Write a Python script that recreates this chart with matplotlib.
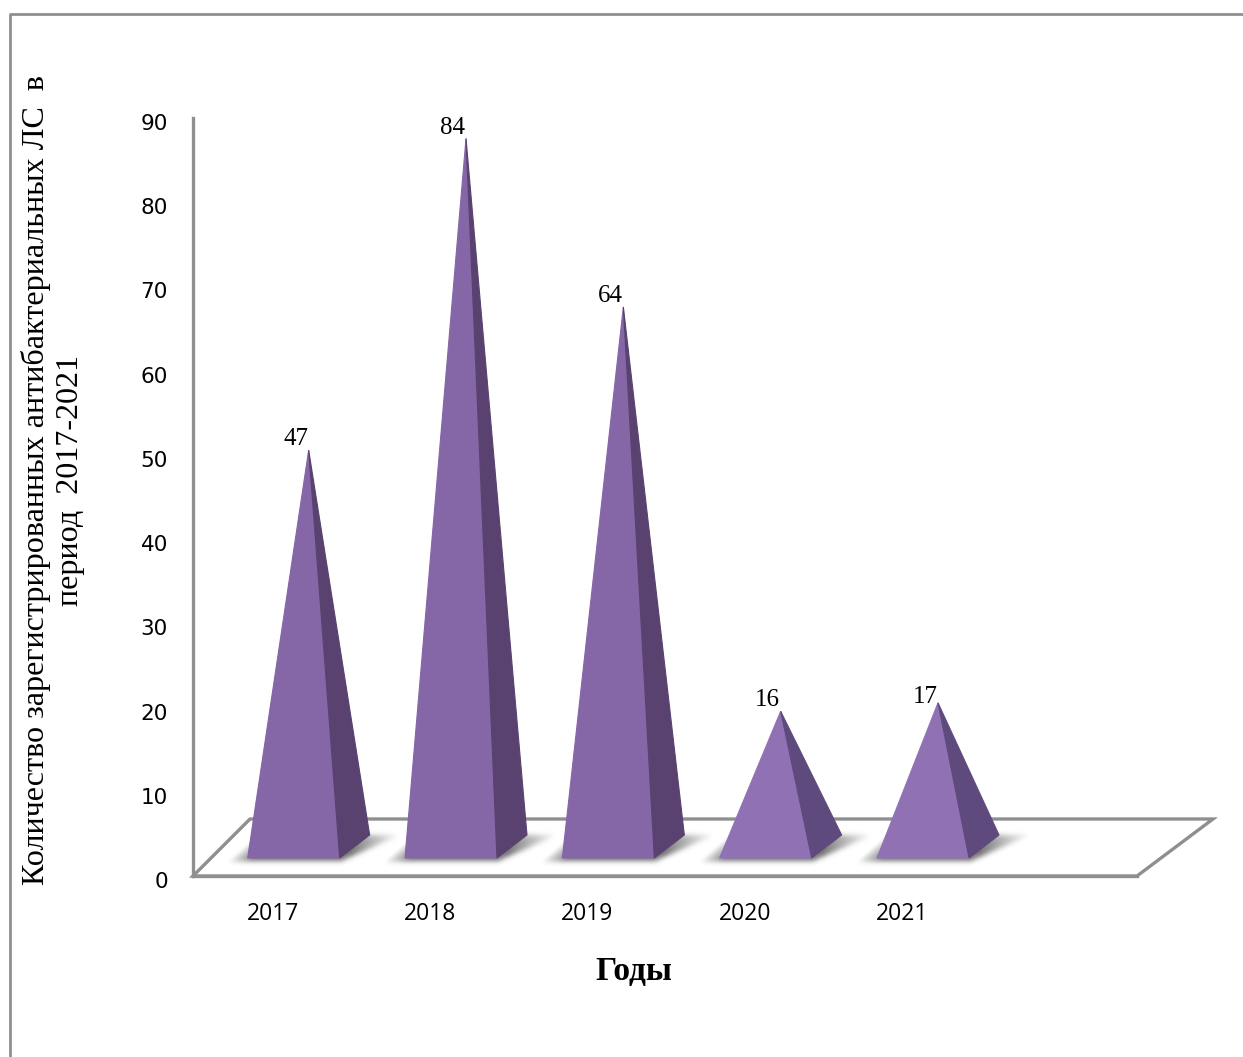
import numpy as np
import matplotlib
matplotlib.use("Agg")
import matplotlib.pyplot as plt
from matplotlib.patches import Polygon
from matplotlib.lines import Line2D
from matplotlib.transforms import ScaledTranslation

# registered drugs per year
years = ["2017", "2018", "2019", "2020", "2021"]
counts = [47, 84, 64, 16, 17]
y_ticks = [0, 10, 20, 30, 40, 50, 60, 70, 80, 90]

W, H = 1243, 1057
GREY = "#8f8f8f"
FRONT_TALL, SIDE_TALL = "#8566a6", "#59426f"
FRONT_LOW, SIDE_LOW = "#9072b4", "#5f4a7e"

fig = plt.figure(figsize=(W / 100, H / 100), dpi=100, facecolor="white")

# axes box: 6 category slots, 0-90 on the value axis
left, right, top, bottom = 193, 1137, 118, 876
ax = fig.add_axes([left / W, 1 - bottom / H, (right - left) / W, (bottom - top) / H])
ax.set_xlim(0, 6)
ax.set_ylim(0, 90)
ax.patch.set_alpha(0)

PX = 6 / (right - left)
PY = 90 / (bottom - top)


def pt(x, y, dx=0, dy=0):
    # data point shifted by screen pixels (dy up)
    return (x + dx * PX, y + dy * PY)


def blurred_shadow(c):
    # parallelogram under the pyramid, blurred and faded out towards both sides
    xs = np.arange(-70, 170)
    ys = np.arange(0, 60)
    gx, gy = np.meshgrid(xs, ys)
    t = (gy - 15) / 26.0
    inside = (gy >= 15) & (gy <= 40) & (gx >= -44 + 30 * t) & (gx <= 70 + 60 * t)
    kernel = np.exp(-0.5 * (np.arange(-9, 10) / 2.5) ** 2)
    kernel /= kernel.sum()
    mask = inside.astype(float)
    mask = np.apply_along_axis(lambda r: np.convolve(r, kernel, mode="same"), 0, mask)
    mask = np.apply_along_axis(lambda r: np.convolve(r, kernel, mode="same"), 1, mask)
    fade_left = np.clip((gx + 46 - 30 * t) / 26.0, 0, 1)
    fade_right = np.clip((128 + 4 * t - gx) / (46 + 14 * t), 0, 1)
    rgba = np.zeros(mask.shape + (4,))
    rgba[..., :3] = 0.36
    rgba[..., 3] = mask * fade_left * fade_right * 0.85
    x0, y0 = pt(c, 0, xs[0], ys[0])
    x1, y1 = pt(c, 0, xs[-1], ys[-1])
    ax.imshow(rgba, extent=(x0, x1, y0, y1), origin="lower", aspect="auto", zorder=2,
              interpolation="bilinear", clip_on=False)


# outer frame around the chart
fig.add_artist(Line2D([10 / W, 10 / W, 1], [0, 1 - 14 / H, 1 - 14 / H], color=GREY, lw=2.0,
                      transform=fig.transFigure))

# floor of the 3D plot
floor = [pt(0, 0), pt(6, 0), pt(6, 0, 76, 57), pt(0, 0, 57, 57)]
ax.add_patch(Polygon(floor, closed=True, fc="white", ec=GREY, lw=2.4, clip_on=False, joinstyle="miter", zorder=1))

for i, v in enumerate(counts):
    c = i + 0.5
    fl = pt(c, 0, -24, 18)
    fr = pt(c, 0, 68, 18)
    br = pt(c, 0, 98, 41)
    apex = pt(c, v, 37, 30)
    low = v < 30
    front = FRONT_LOW if low else FRONT_TALL
    side = SIDE_LOW if low else SIDE_TALL

    blurred_shadow(c)

    ax.add_patch(Polygon([fl, fr, apex], closed=True, fc=front, ec=front, lw=0.8, zorder=3, clip_on=False))
    ax.add_patch(Polygon([fr, br, apex], closed=True, fc=side, ec=side, lw=0.8, zorder=3, clip_on=False))

    lift = 6 if v == 17 else 11
    ax.annotate(str(v), xy=apex, xytext=(-13 * 0.72, lift * 0.72), textcoords="offset points",
                ha="center", va="center", fontsize=18, family="Liberation Serif", color="black", zorder=5)

# imshow resets the limits
ax.set_xlim(0, 6)
ax.set_ylim(0, 90)

# axes and ticks
for s in ("top", "right"):
    ax.spines[s].set_visible(False)
for s in ("left", "bottom"):
    ax.spines[s].set_color(GREY)
    ax.spines[s].set_linewidth(2.4)
    ax.spines[s].set_zorder(1.5)

ax.set_yticks(y_ticks)
ax.set_yticklabels([str(t) for t in y_ticks], family="DejaVu Sans", fontsize=15.5)
ax.set_xticks([i + 0.5 for i in range(len(years))])
ax.set_xticklabels(years, family="Open Sans", fontsize=16.5)
ax.tick_params(axis="y", length=0, pad=18)
ax.tick_params(axis="x", length=0, pad=19)

# nudge tick labels by a few pixels
down = ScaledTranslation(0, -4 / 100, fig.dpi_scale_trans)
for lab in ax.get_yticklabels():
    lab.set_transform(lab.get_transform() + down)
nudge = ScaledTranslation(1 / 100, 0, fig.dpi_scale_trans)
for lab in ax.get_xticklabels():
    lab.set_transform(lab.get_transform() + nudge)

# axis titles
fig.text(634 / W, 1 - 971 / H, "Годы", ha="center", va="center", fontsize=24, fontweight="bold",
         family="Liberation Serif")
fig.text(53 / W, 1 - 480 / H, "Количество зарегистрированных антибактериальных ЛС  в\nпериод  2017-2021",
         rotation=90, ha="center", va="center", ma="center", fontsize=23.1, family="Liberation Serif",
         linespacing=1.25)

fig.savefig("out.png", dpi=100)
